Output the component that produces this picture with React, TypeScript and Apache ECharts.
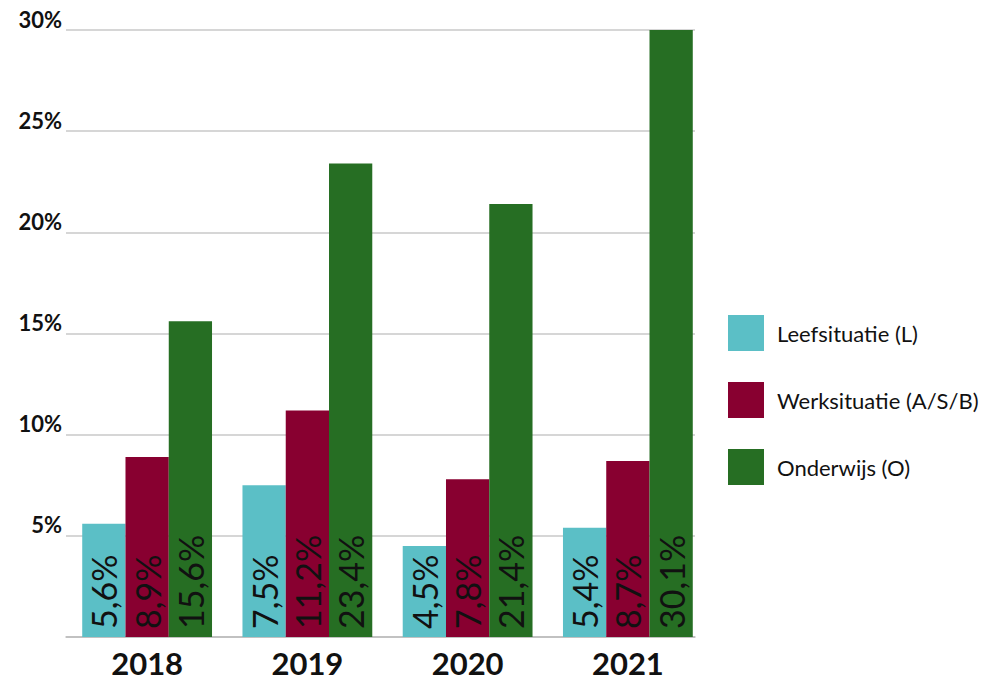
import React, { useEffect, useRef } from "react";
import * as echarts from "echarts";

const years = ["2018", "2019", "2020", "2021"];
const leefsituatie = [5.6, 7.5, 4.5, 5.4];
const werksituatie = [8.9, 11.2, 7.8, 8.7];
const onderwijs = [15.6, 23.4, 21.4, 30.1];
const seriesNames = ["Leefsituatie (L)", "Werksituatie (A/S/B)", "Onderwijs (O)"];
const colors = ["#5bbfc6", "#880030", "#266e23"];
const yTicks = { min: 0, max: 30, interval: 5 };

export default function App() {
  const ref = useRef<HTMLDivElement>(null);
  useEffect(() => {
    const chart = echarts.init(ref.current!, null, { renderer: "svg" });
    const font = "Lato, 'Open Sans', sans-serif";
    const mk = (name: string, data: number[], color: string) => ({
      name,
      type: "bar",
      xAxisIndex: 0,
      yAxisIndex: 0,
      data,
      barGap: "0%",
      barCategoryGap: "19%",
      itemStyle: { color },
      z: 3,
      label: {
        show: true,
        position: "insideBottom",
        rotate: 90,
        align: "left",
        verticalAlign: "middle",
        distance: 8,
        fontSize: 34,
        fontFamily: font,
        color: "#111",
        formatter: (p: any) => String(p.value).replace(".", ",") + "%",
      },
    });
    chart.setOption({
      animation: false,
      textStyle: { fontFamily: font },
      grid: [
        { left: 67, right: 283, top: 30, bottom: 45 },
        { left: 66, right: 296, top: 30, bottom: 45 },
      ],
      legend: {
        orient: "vertical",
        left: 723,
        top: 310,
        itemWidth: 36,
        itemHeight: 36,
        itemGap: 31,
        icon: "rect",
        textStyle: { fontSize: 22, fontFamily: font, color: "#111", padding: [0, 0, 0, 8] },
        data: seriesNames,
      },
      xAxis: [
        {
          type: "category",
          gridIndex: 0,
          data: years,
          axisTick: { show: false },
          axisLine: { show: false },
          axisLabel: { fontSize: 31, fontWeight: "bold", color: "#111", margin: 10, fontFamily: font },
        },
        {
          type: "value",
          gridIndex: 1,
          min: 0,
          max: 1,
          axisTick: { show: false },
          axisLabel: { show: false },
          splitLine: { show: false },
          axisLine: { show: true, lineStyle: { color: "#bbb", width: 1.5 } },
        },
      ],
      yAxis: [
        {
          type: "value",
          gridIndex: 0,
          ...yTicks,
          axisLabel: { show: false },
          splitLine: { show: false },
          axisLine: { show: false },
          axisTick: { show: false },
        },
        {
          type: "value",
          gridIndex: 1,
          ...yTicks,
          axisLine: { show: false },
          axisTick: { show: false },
          axisLabel: {
            fontSize: 22,
            fontWeight: "bold",
            color: "#111",
            margin: 4,
            fontFamily: font,
            formatter: (v: number) => (v === 0 ? "" : v + "%"),
            verticalAlign: "bottom",
          },
          splitLine: { lineStyle: { color: "#c8c8c8", width: 1.5 } },
        },
      ],
      series: [
        mk(seriesNames[0], leefsituatie, colors[0]),
        mk(seriesNames[1], werksituatie, colors[1]),
        mk(seriesNames[2], onderwijs, colors[2]),
      ],
    });
    return () => chart.dispose();
  }, []);
  return <div ref={ref} style={{ width: 991, height: 682, position: "absolute", left: 0, top: 0 }} />;
}
